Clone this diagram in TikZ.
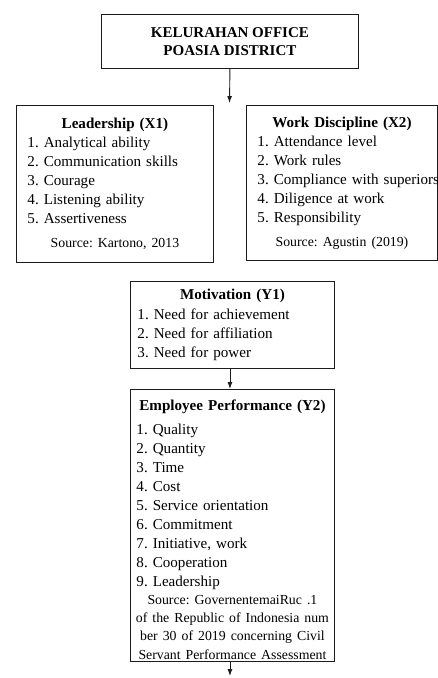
\documentclass[tikz,border=0pt]{standalone}
\usepackage{fontspec}
\setmainfont{Liberation Serif}
\usetikzlibrary{arrows.meta}
\definecolor{boxline}{RGB}{28,28,28}
% centred line inside a ragged-right panel
\newcommand{\midline}[1]{\makebox[\hsize][c]{#1}}
\newcommand{\itemfont}{\frenchspacing\fontsize{15.1}{19}\selectfont}
\newcommand{\srcfont}{\fontsize{13.8}{18}\selectfont}
\tikzset{
  flow/.style={-{Latex[length=2.4mm,width=1.7mm]},line width=0.9pt,boxline},
  panel/.style={draw=boxline,line width=0.9pt,anchor=north west,inner ysep=0pt,
                align=left,font=\itemfont},
  office/.style={panel,align=center,inner xsep=0pt,
                 font=\bfseries\fontsize{15}{18}\selectfont},
}

\begin{document}
\begin{tikzpicture}[x=1pt,y=-1pt]
  \path[use as bounding box] (0,0) rectangle (438,678);

  \node[office,minimum width=257pt,minimum height=54pt] (kel) at (101,14)
    {KELURAHAN OFFICE\\POASIA DISTRICT};
  \coordinate (split) at (229.5,103);
  \draw[flow] (kel.south) -- (split);

  % independent variables
  \node[panel,minimum width=197pt,minimum height=157pt,inner xsep=11pt,text width=175pt]
    (lead) at (16,105)
    {\midline{\textbf{Leadership (X1)}}\\
     1. Analytical ability\\
     2. Communication skills\\
     3. Courage\\
     4. Listening ability\\
     5. Assertiveness\\[5pt]
     \srcfont\midline{Source: Kartono, 2013}};
  \node[panel,minimum width=191pt,minimum height=155pt,inner xsep=11pt,text width=169pt]
    (disc) at (246,105)
    {\midline{\textbf{Work Discipline (X2)}}\\
     1. Attendance level\\
     2. Work rules\\
     \mbox{3. Compliance with superiors}\\
     4. Diligence at work\\
     5. Responsibility\\[5pt]
     \srcfont\midline{Source: Agustin (2019)}};

  % intervening and dependent variables
  \node[panel,minimum width=204pt,minimum height=87pt,inner xsep=7pt,text width=190pt]
    (motiv) at (130,281)
    {\midline{\textbf{Motivation (Y1)}}\\[1pt]
     1. Need for achievement\\
     2. Need for affiliation\\
     3. Need for power};
  \node[panel,minimum width=204pt,minimum height=272pt,inner xsep=6pt,text width=192pt]
    (perf) at (130,389)
    {\rule{0pt}{20pt}\midline{\textbf{Employee Performance (Y2)}}\\[5pt]
     1. Quality\\
     2. Quantity\\
     3. Time\\
     4. Cost\\
     5. Service orientation\\
     6. Commitment\\
     7. Initiative, work\\
     8. Cooperation\\
     9. Leadership\\
     \srcfont\midline{Source: GovernentemaiRuc .1}\\
     \midline{of the Republic of Indonesia num}\\
     \midline{ber 30 of 2019 concerning Civil}\\
     \midline{Servant Performance Assessment}};

  \draw[flow] (kel.south |- motiv.south) -- (kel.south |- perf.north);
  \coordinate (next) at (kel.south |- 0,676);
  \draw[flow] (kel.south |- perf.south) -- (next);
\end{tikzpicture}
\end{document}
